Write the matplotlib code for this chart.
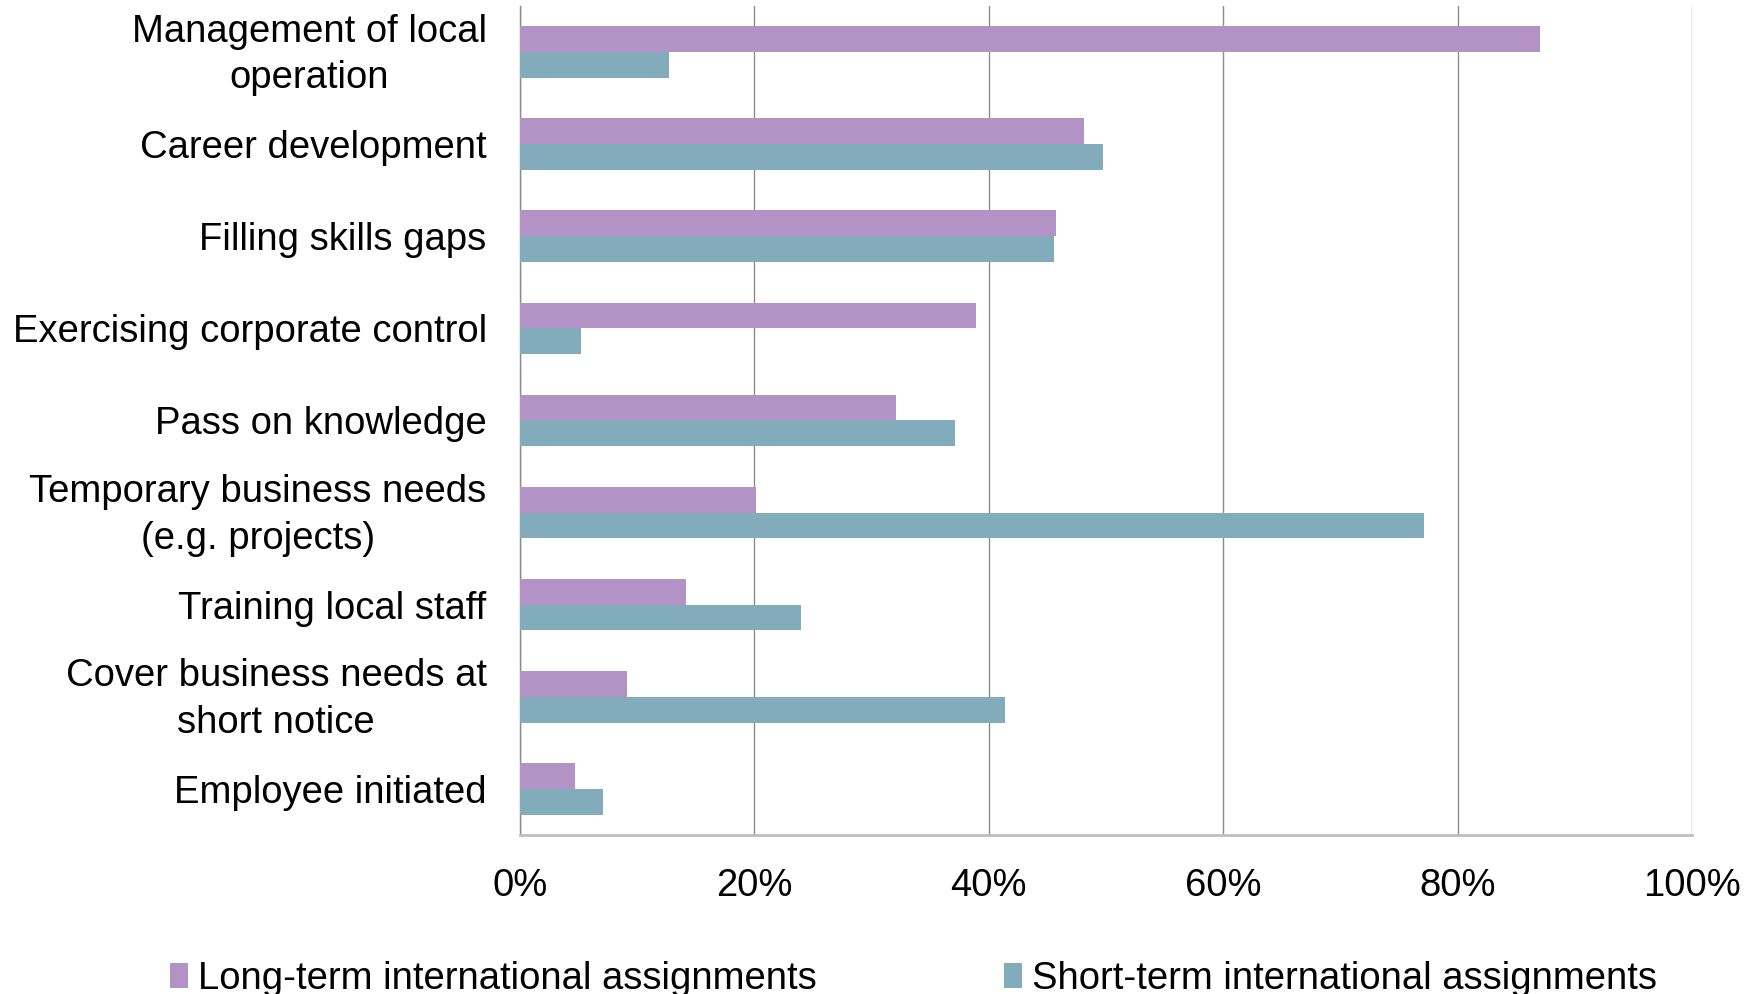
import matplotlib
matplotlib.use('Agg')
import matplotlib.pyplot as plt
import matplotlib.transforms as mtransforms
import numpy as np

categories = ['Management of local\noperation', 'Career development', 'Filling skills gaps',
              'Exercising corporate control', 'Pass on knowledge',
              'Temporary business needs\n(e.g. projects)', 'Training local staff',
              'Cover business needs at\nshort notice', 'Employee initiated']
long_term = [87.0, 48.1, 45.7, 38.9, 32.1, 20.1, 14.2, 9.1, 4.7]
short_term = [12.7, 49.7, 45.6, 5.2, 37.1, 77.1, 24.0, 41.4, 7.1]
series_names = ['Long-term international assignments', 'Short-term international assignments']
x_ticks = [0, 20, 40, 60, 80, 100]

purple = '#B393C6'
teal = '#82ABBB'
grid_col = '#8C8C8C'

plt.rcParams['font.family'] = ['Liberation Sans', 'DejaVu Sans']

fig = plt.figure(figsize=(17.57, 9.94), dpi=100)
ax = fig.add_axes([0.296, 0.160, 0.667, 0.834])

y = np.arange(len(categories))
h = 0.28
ax.barh(y - h / 2, long_term, height=h, color=purple, label=series_names[0], zorder=3)
ax.barh(y + h / 2, short_term, height=h, color=teal, label=series_names[1], zorder=3)

ax.set_xlim(0, 100)
ax.set_ylim(len(categories) - 0.5, -0.5)
ax.set_xticks(x_ticks)
ax.set_xticklabels([f'{t}%' for t in x_ticks], fontsize=27.5)
ax.set_yticks(y)
ax.set_yticklabels(categories, fontsize=27.5, multialignment='center', linespacing=1.38)
ax.tick_params(axis='x', length=0, pad=24)
ax.tick_params(axis='y', length=0, pad=24)

# two-line labels sit a little higher in the original
up = mtransforms.ScaledTranslation(0, 0.065, fig.dpi_scale_trans)
for lbl in ax.get_yticklabels():
    if '\n' in lbl.get_text():
        lbl.set_transform(lbl.get_transform() + up)

ax.grid(axis='x', color=grid_col, linewidth=1.0, zorder=0)
for s in ['top', 'right']:
    ax.spines[s].set_visible(False)
ax.spines['left'].set_color(grid_col)
ax.spines['left'].set_linewidth(1.0)
ax.spines['bottom'].set_color('#BFBFBF')
ax.spines['bottom'].set_linewidth(2.0)

fig.legend(loc='center', bbox_to_anchor=(0.52, 0.015), ncol=2, frameon=False,
           fontsize=27.5, handlelength=0.47, handleheight=0.6, handletextpad=0.26,
           columnspacing=4.9, borderaxespad=0, borderpad=0)

fig.savefig('out.png', dpi=100)
